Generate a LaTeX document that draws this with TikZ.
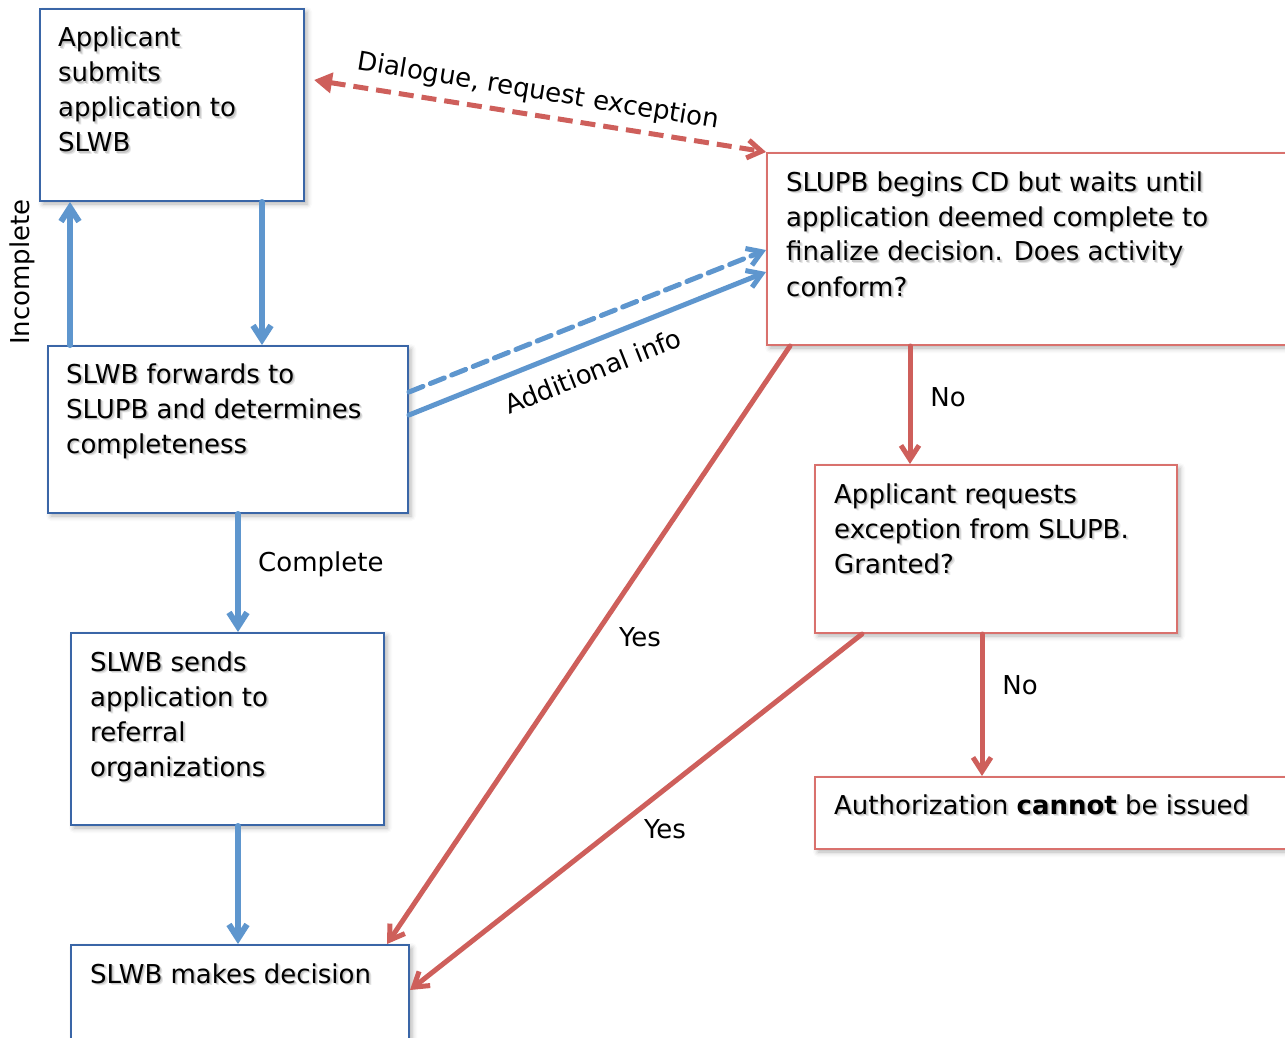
\documentclass[tikz,border=0pt]{standalone}
\usepackage{fontspec}
\setmainfont{DejaVu Sans}
\usetikzlibrary{arrows.meta,calc,shadows.blur}

\definecolor{flowblue}{HTML}{5E96CE}
\definecolor{boxblue}{HTML}{3A66A7}
\definecolor{flowred}{HTML}{CE5F5B}
\definecolor{boxred}{HTML}{D9716D}

% text with a soft drop shadow
\newcommand\sh[1]{\rlap{\kern2.6pt\raisebox{-2.6pt}{\textcolor{black!10}{#1}}}\rlap{\kern1.5pt\raisebox{-1.5pt}{\textcolor{black!22}{#1}}}#1}
\newcommand\tline[1]{\hbox{\sh{#1}}}

\tikzset{
  card/.style={draw, line width=2pt, fill=white, inner sep=0pt, anchor=north west,
    blur shadow={shadow xshift=3pt, shadow yshift=-3pt, shadow blur radius=5pt, shadow opacity=30}},
  bluecard/.style={card, draw=boxblue},
  redcard/.style={card, draw=boxred},
  boxtext/.style={inner sep=0pt, anchor=base west, font=\fontsize{26}{35}\selectfont},
  lbl/.style={inner sep=0pt, font=\fontsize{26}{35}\selectfont},
  barb/.style={-{Straight Barb[length=14pt,width=18pt]}, line cap=round, line join=round},
  bluearrow/.style={draw=flowblue, line width=6pt, barb},
  redarrow/.style={draw=flowred, line width=5pt, barb},
}

\begin{document}
\begin{tikzpicture}[x=1pt,y=-1pt]
\useasboundingbox (0,0) rectangle (1285,1038);
\clip (0,0) rectangle (1285,1038);

% boxes
\node[bluecard, minimum width=264pt, minimum height=192pt] (b1) at (39,8) {};
\node[bluecard, minimum width=360pt, minimum height=167pt] (b2) at (47,345) {};
\node[bluecard, minimum width=313pt, minimum height=192pt] (b3) at (70,632) {};
\node[bluecard, minimum width=338pt, minimum height=140pt] (b4) at (70,944) {};
\node[redcard, minimum width=560pt, minimum height=192pt] (b5) at (766,152) {};
\node[redcard, minimum width=362pt, minimum height=168pt] (b6) at (814,464) {};
\node[redcard, minimum width=520pt, minimum height=72pt] (b7) at (814,776) {};

% box texts
\node[boxtext] (t1) at (58,47) {\vtop{\tline{Applicant}\tline{submits}\tline{application to}\tline{SLWB}}};
\node[boxtext] (t2) at (66,383) {\vtop{\tline{SLWB forwards to}\tline{SLUPB and determines}\tline{completeness}}};
\node[boxtext] (t3) at (90,671) {\vtop{\tline{SLWB sends}\tline{application to}\tline{referral}\tline{organizations}}};
\node[boxtext] (t4) at (90,983) {\vtop{\tline{SLWB makes decision}}};
\node[boxtext] (t5) at (786,191) {\vtop{\tline{SLUPB begins CD but waits until}\tline{application deemed complete to}\tline{finalize decision. Does activity}\tline{conform?}}};
\node[boxtext] (t6) at (834,503) {\vtop{\tline{Applicant requests}\tline{exception from SLUPB.}\tline{Granted?}}};
\node[boxtext] (t7) at (834,814) {\vtop{\tline{Authorization \textbf{cannot} be issued}}};

% blue connectors
\draw[bluearrow] ($(b1.south west)+(223,0)$) -- ($(b2.north west)+(215,0)$);
\draw[bluearrow] ($(b2.north west)+(23,0)$) -- ($(b1.south west)+(31,0)$);
\draw[bluearrow] ($(b2.south west)+(191,0)$) -- ($(b3.north west)+(168,0)$);
\draw[bluearrow] ($(b3.south west)+(168,0)$) -- ($(b4.north west)+(168,0)$);
\draw[bluearrow, line width=5pt, dash pattern=on 15pt off 8pt] ($(b2.north east)+(0,47)$) -- ($(b5.north west)+(0,98)$);
\draw[bluearrow, line width=5pt] ($(b2.north east)+(0,70)$) -- ($(b5.north west)+(0,120)$);

% red connectors
\draw[draw=flowred, line width=5pt, dash pattern=on 15pt off 8pt,
  {Triangle[length=18pt,width=20pt]}-{Straight Barb[length=14pt,width=18pt]}]
  ($(b1.north east)+(9,72)$) -- (b5.north west);
\draw[redarrow] ($(b5.south west)+(24,0)$) -- ($(b4.north east)+(-23,0)$);
\draw[redarrow] ($(b5.south west)+(144,0)$) -- ($(b6.north west)+(96,0)$);
\draw[redarrow] ($(b6.south west)+(48,0)$) -- ($(b4.north east)+(0,46)$);
\draw[redarrow] ($(b6.south west)+(168,0)$) -- ($(b7.north west)+(168,0)$);

% connector labels
\node[lbl, rotate=90] (lincomplete) at (22,272) {Incomplete};
\node[lbl, anchor=west] (lcomplete) at (258,564) {Complete};
\node[lbl] (lnoa) at (948,397) {No};
\node[lbl] (lyesa) at (640,637) {Yes};
\node[lbl] (lyesb) at (665,829) {Yes};
\node[lbl] (lnob) at (1020,685) {No};
\node[lbl, rotate=-9.3] (ldialogue) at (538,92) {Dialogue, request exception};
\node[lbl, rotate=21.7] (linfo) at (593,371) {Additional info};
\end{tikzpicture}
\end{document}
